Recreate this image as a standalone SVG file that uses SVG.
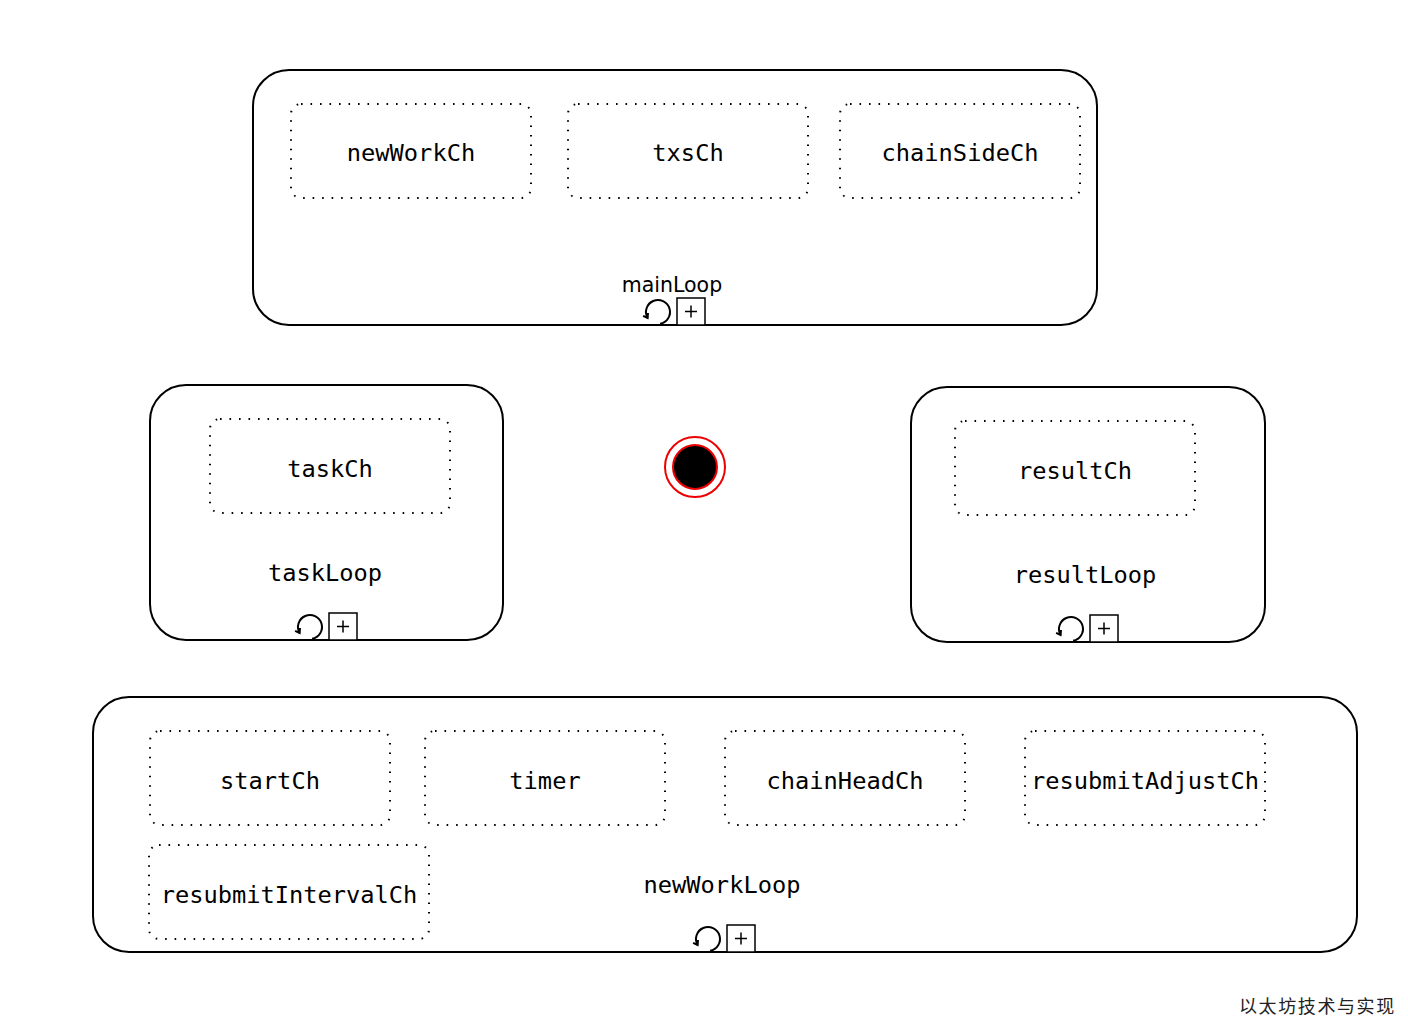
<svg xmlns="http://www.w3.org/2000/svg" xmlns:xlink="http://www.w3.org/1999/xlink" width="1408" height="1026" viewBox="0 0 1408 1026">
<style>
.container{fill:#fff;stroke:#000;stroke-width:2}
.chan{fill:none;stroke:#000;stroke-width:2;stroke-dasharray:1.6 7.9;stroke-linecap:butt}
.mono{font-family:"DejaVu Sans Mono","Liberation Mono",monospace;font-size:23.7px;fill:#000;text-anchor:middle}
.hand{font-family:"DejaVu Sans","Liberation Sans",sans-serif;font-size:20.5px;fill:#000;text-anchor:middle}
.icon{fill:none;stroke:#000;stroke-width:2}
.cjk{font-family:"Noto Sans CJK SC",sans-serif;font-size:18px;fill:#222;letter-spacing:1.6px}
</style>
<defs>
<g id="loopIcon">
<path class="icon" d="M -16.9,-1.2 A 12 12 0 1 0 -29.4,-7"/>
<path class="icon" stroke-width="1.6" d="M -29,-12 L -29.4,-7 L -33.9,-9.1"/>
<rect x="0" y="-27" width="28" height="27" fill="#fff" stroke="#000" stroke-width="1.5"/>
<path d="M 8,-13.5 H 20 M 14,-19.5 V -7.5" stroke="#000" stroke-width="1.5"/>
</g>
</defs>
<rect width="1408" height="1026" fill="#fff"/>
<g id="connectors"/>
<g id="mainLoop">
<rect class="container" x="253" y="70" width="844" height="255" rx="36"/>
<text class="hand" x="672" y="292">mainLoop</text>
<use xlink:href="#loopIcon" x="677" y="325"/>
</g>
<g id="newWorkCh">
<rect class="chan" x="291" y="104" width="240" height="94" rx="10"/>
<text class="mono" x="411" y="161">newWorkCh</text>
</g>
<g id="txsCh">
<rect class="chan" x="568" y="104" width="240" height="94" rx="10"/>
<text class="mono" x="688" y="161">txsCh</text>
</g>
<g id="chainSideCh">
<rect class="chan" x="840" y="104" width="240" height="94" rx="10"/>
<text class="mono" x="960" y="161">chainSideCh</text>
</g>
<g id="taskLoop">
<rect class="container" x="150" y="385" width="353" height="255" rx="36"/>
<text class="mono" x="325" y="581">taskLoop</text>
<use xlink:href="#loopIcon" x="329" y="640"/>
</g>
<g id="taskCh">
<rect class="chan" x="210" y="419" width="240" height="94" rx="10"/>
<text class="mono" x="330" y="477">taskCh</text>
</g>
<g id="start">
<circle cx="695" cy="467" r="30" fill="#fff" stroke="#e00" stroke-width="2"/>
<circle cx="695" cy="467" r="22" fill="#000" stroke="#e00" stroke-width="2"/>
</g>
<g id="resultLoop">
<rect class="container" x="911" y="387" width="354" height="255" rx="36"/>
<text class="mono" x="1085" y="583">resultLoop</text>
<use xlink:href="#loopIcon" x="1090" y="642"/>
</g>
<g id="resultCh">
<rect class="chan" x="955" y="421" width="240" height="94" rx="10"/>
<text class="mono" x="1075" y="479">resultCh</text>
</g>
<g id="newWorkLoop">
<rect class="container" x="93" y="697" width="1264" height="255" rx="36"/>
<text class="mono" x="722" y="893">newWorkLoop</text>
<use xlink:href="#loopIcon" x="727" y="952"/>
</g>
<g id="startCh">
<rect class="chan" x="150" y="731" width="240" height="94" rx="10"/>
<text class="mono" x="270" y="789">startCh</text>
</g>
<g id="timer">
<rect class="chan" x="425" y="731" width="240" height="94" rx="10"/>
<text class="mono" x="545" y="789">timer</text>
</g>
<g id="chainHeadCh">
<rect class="chan" x="725" y="731" width="240" height="94" rx="10"/>
<text class="mono" x="845" y="789">chainHeadCh</text>
</g>
<g id="resubmitAdjustCh">
<rect class="chan" x="1025" y="731" width="240" height="94" rx="10"/>
<text class="mono" x="1145" y="789">resubmitAdjustCh</text>
</g>
<g id="resubmitIntervalCh">
<rect class="chan" x="149" y="845" width="280" height="94" rx="10"/>
<text class="mono" x="289" y="903">resubmitIntervalCh</text>
</g>
<text class="cjk" x="1239" y="1013">以太坊技术与实现</text>
</svg>
